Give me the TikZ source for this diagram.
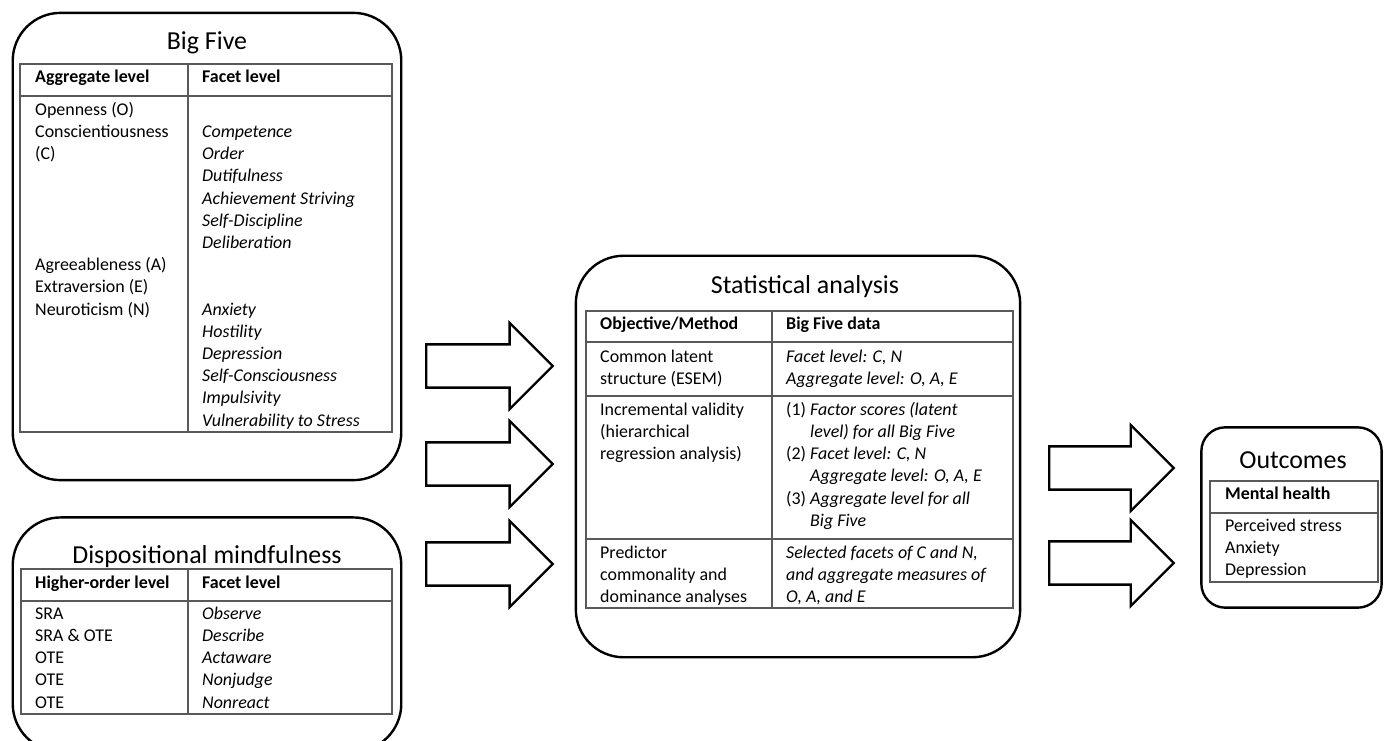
\documentclass[tikz,border=0pt]{standalone}
\usepackage{fontspec}
\setmainfont{Carlito}
\usetikzlibrary{shapes.arrows}
\tikzset{
  panel/.style={draw, line width=2.4pt, rounded corners=48pt, inner sep=0pt},
  smallpanel/.style={panel, rounded corners=24pt},
  grid/.style={draw=black!65, line width=1.3pt},
  paneltitle/.style={font=\fontsize{26}{30}\selectfont, anchor=base, inner sep=0pt},
  headcell/.style={font=\fontsize{18}{22.3}\selectfont\bfseries, anchor=base west, inner sep=0pt},
  cell/.style={font=\fontsize{18}{22.3}\selectfont, anchor=north west, align=left, inner sep=0pt},
  itcell/.style={cell, font=\fontsize{18}{22.3}\selectfont\itshape},
  blockarr/.style={single arrow, draw, line width=2.4pt, inner xsep=0pt, inner ysep=20.5pt,
    single arrow head extend=21.5pt, single arrow tip angle=90, anchor=tail}
}

\begin{document}
\begin{tikzpicture}[x=1bp, y=-1bp]
  \useasboundingbox (0,0) rectangle (1392,740);

  % Big Five
  \node[panel, minimum width=390pt, minimum height=469pt] (bigfive) at (207,246.5) {};
  \node[paneltitle] (bigfivetitle) at (207,50) {Big Five};
  \draw[grid] (20,64) rectangle (392,432);
  \draw[grid] (20,96) -- (392,96);
  \draw[grid] (188,64) -- (188,432);
  \node[headcell] (bfhead1) at (35,82.5) {Aggregate level};
  \node[headcell] (bfhead2) at (202,82.5) {Facet level};
  \node[cell] (bfagg) at (35,99.4) {\strut Openness (O)\\Conscientiousness\\(C)\\\strut\\\strut\\\strut\\\strut\\Agreeableness (A)\\Extraversion (E)\\Neuroticism (N)};
  \node[itcell] (bffacet) at (202,99.4) {\strut\\Competence\\Order\\Dutifulness\\Achievement Striving\\Self-Discipline\\Deliberation\\\strut\\\strut\\Anxiety\\Hostility\\Depression\\Self-Consciousness\\Impulsivity\\Vulnerability to Stress};

  % Dispositional mindfulness
  \node[panel, minimum width=390pt, minimum height=235pt] (mindful) at (207,634.5) {};
  \node[paneltitle] (mindtitle) at (207,563) {Dispositional mindfulness};
  \draw[grid] (21,569) rectangle (392,714);
  \draw[grid] (21,601) -- (392,601);
  \draw[grid] (188,569) -- (188,714);
  \node[headcell] (mdhead1) at (35,588) {Higher-order level};
  \node[headcell] (mdhead2) at (202,588) {Facet level};
  \node[cell] (mdhigher) at (35,603.4) {\strut SRA\\SRA \& OTE\\OTE\\OTE\\OTE};
  \node[itcell] (mdfacet) at (202,603.4) {\strut Observe\\Describe\\Actaware\\Nonjudge\\Nonreact};

  % Statistical analysis
  \node[panel, minimum width=446pt, minimum height=403pt] (stats) at (798,456.5) {};
  \node[paneltitle] (statstitle) at (805,293) {Statistical analysis};
  \draw[grid] (586,311) rectangle (1013,608);
  \draw[grid] (586,342) -- (1013,342);
  \draw[grid] (586,396) -- (1013,396);
  \draw[grid] (586,539) -- (1013,539);
  \draw[grid] (772,311) -- (772,608);
  \node[headcell] (sthead1) at (600,329.3) {Objective/Method};
  \node[headcell] (sthead2) at (786,329.3) {Big Five data};
  \node[cell] (stmeth1) at (600,346.4) {\strut Common latent\\structure (ESEM)};
  \node[itcell] (stdata1) at (786,346.4) {\strut Facet level: C, N\\Aggregate level: O, A, E};
  \node[cell] (stmeth2) at (600,399.4) {\strut Incremental validity\\(hierarchical\\regression analysis)};
  \node[cell] (stdata2) at (786,399.4) {\strut(1) \textit{Factor scores (latent}\\\phantom{(1)} \textit{level) for all Big Five}\\(2) \textit{Facet level: C, N}\\\phantom{(2)} \textit{Aggregate level: O, A, E}\\(3) \textit{Aggregate level for all}\\\phantom{(3)} \textit{Big Five}};
  \node[cell] (stmeth3) at (600,542.7) {\strut Predictor\\commonality and\\dominance analyses};
  \node[itcell] (stdata3) at (786,542.7) {\strut Selected facets of C and N,\\and aggregate measures of\\O, A, and E};

  % Outcomes
  \node[smallpanel, minimum width=181pt, minimum height=181pt] (outcomes) at (1291.5,517.5) {};
  \node[paneltitle] (outtitle) at (1293,468.3) {Outcomes};
  \draw[grid] (1210,481) rectangle (1378,582);
  \draw[grid] (1210,513) -- (1378,513);
  \node[headcell] (outhead) at (1225,499.3) {Mental health};
  \node[cell] (outlist) at (1225,515.4) {\strut Perceived stress\\Anxiety\\Depression};

  % block arrows
  \node[blockarr, minimum height=127pt] (inarr1) at (425,366) {};
  \node[blockarr, minimum height=127pt] (inarr2) at (425,464) {};
  \node[blockarr, minimum height=127pt] (inarr3) at (425,564) {};
  \node[blockarr, minimum height=125pt] (outarr1) at (1048,468) {};
  \node[blockarr, minimum height=125pt] (outarr2) at (1048,563) {};
\end{tikzpicture}
\end{document}
